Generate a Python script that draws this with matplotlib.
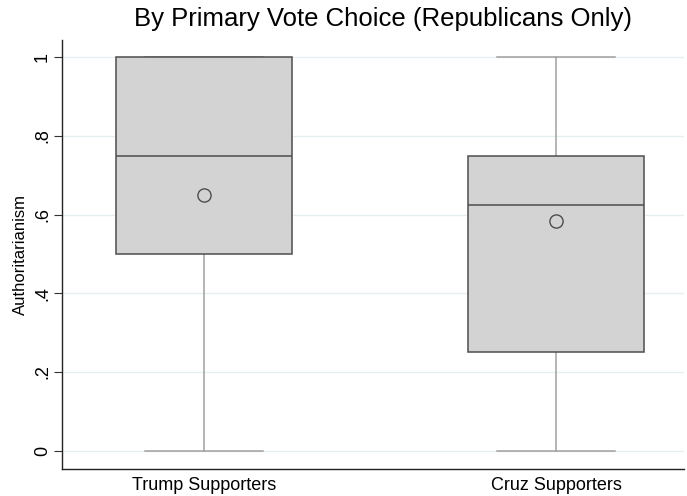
import matplotlib
matplotlib.use("Agg")
import matplotlib.pyplot as plt

plt.rcParams['font.family'] = ['Liberation Sans', 'DejaVu Sans']

groups = ["Trump Supporters", "Cruz Supporters"]
q1 = [0.5, 0.25]
median = [0.75, 0.625]
q3 = [1.0, 0.75]
whisker_lo = [0.0, 0.0]
whisker_hi = [1.0, 1.0]
means = [0.65, 0.585]
yticks = [0, 0.2, 0.4, 0.6, 0.8, 1.0]
ytick_labels = ["0", ".2", ".4", ".6", ".8", "1"]

stats = []
for i, g in enumerate(groups):
    stats.append({"label": g, "q1": q1[i], "med": median[i], "q3": q3[i],
                  "whislo": whisker_lo[i], "whishi": whisker_hi[i],
                  "mean": means[i], "fliers": []})

fig = plt.figure(figsize=(6.87, 4.96), dpi=100)
ax = fig.add_axes([62 / 687, 1 - 469 / 496, (684 - 62) / 687, (469 - 40) / 496])

# whiskers and caps sit under the boxes so the box outline stays dark
ax.bxp(stats, positions=[1, 2], widths=0.5, capwidths=0.335,
       patch_artist=True, showmeans=True, showfliers=False,
       boxprops=dict(facecolor="#d3d3d3", edgecolor="#4d4d4d", linewidth=1.1, zorder=4),
       medianprops=dict(color="#4d4d4d", linewidth=1.1, zorder=5),
       whiskerprops=dict(color="#a0a0a0", linewidth=1.1, zorder=2),
       capprops=dict(color="#a0a0a0", linewidth=1.1, zorder=2),
       meanprops=dict(marker="o", markersize=9.5, markerfacecolor="none",
                      markeredgecolor="#4d4d4d", markeredgewidth=1.0, zorder=6))

ax.set_xlim(1 - 142 / 352, 2 + 128 / 352)
ax.set_ylim(-0.0465, 1.044)
ax.set_yticks(yticks)
ax.set_yticklabels(ytick_labels, rotation=90, va="center", fontsize=13)
ax.tick_params(axis="y", length=6, width=0.8, color="#333333", pad=2)
ax.tick_params(axis="x", length=0, labelsize=13, pad=6)
ax.grid(axis="y", color="#e6eff0", linewidth=1.0, zorder=0)
ax.set_axisbelow(True)

for side in ["top", "right"]:
    ax.spines[side].set_visible(False)
for side in ["left", "bottom"]:
    ax.spines[side].set_color("#222222")
    ax.spines[side].set_linewidth(1.0)

ax.set_ylabel("Authoritarianism", fontsize=12, labelpad=4)
fig.text(383 / 687, 1 - 19 / 496, "By Primary Vote Choice (Republicans Only)",
         ha="center", va="center", fontsize=18.5)

fig.savefig("out.png", dpi=100)
